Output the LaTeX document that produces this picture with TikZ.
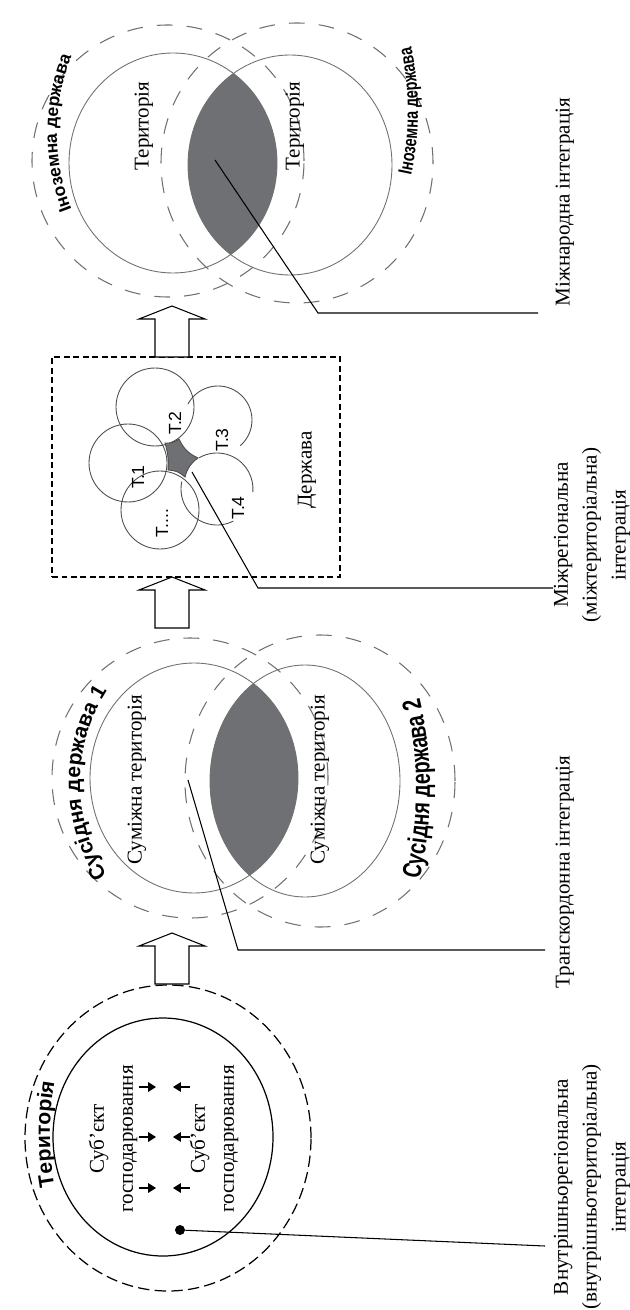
\documentclass[tikz,border=0pt]{standalone}
\usepackage{fontspec}
\setmainfont{Liberation Serif}
\newfontfamily\labsans{Liberation Sans}
\newfontfamily\condsans[FakeStretch=0.75]{Liberation Sans}
\usetikzlibrary{arrows.meta,decorations.text}
\definecolor{rimgrey}{RGB}{112,112,112}
\definecolor{lensgrey}{RGB}{110,112,115}
\tikzset{
  rim/.style={draw=rimgrey, line width=0.5pt},
  farrim/.style={draw=rimgrey, line width=0.6pt, dash pattern=on 9pt off 8pt},
  petal/.style={draw=black!70, line width=0.5pt},
  lens/.style={fill=lensgrey},
  inlabel/.style={rotate=90, font=\fontsize{12}{16.5}\selectfont, align=center, inner sep=0pt},
  caption/.style={rotate=90, font=\fontsize{12}{16.5}\selectfont, align=center, inner sep=0pt},
  tlabel/.style={rotate=90, font=\labsans\fontsize{10}{12}\selectfont, inner sep=0pt},
  statebox/.style={draw, line width=0.7pt, dash pattern=on 3.4pt off 2pt,
    minimum width=5.76cm, minimum height=4.4cm, inner sep=0pt},
  bigarrow/.style={draw, fill=white, line width=0.6pt},
  leader/.style={line width=0.6pt},
  smallarrow/.style={-{Triangle[length=4.5pt,width=5.5pt]}, line width=0.6pt}
}

\begin{document}
\begin{tikzpicture}[x=0.02cm, y=0.02cm]
\useasboundingbox (0,0) rectangle (629,-1310);

% international integration
\draw[farrim] (168,-161) ellipse [x radius=136, y radius=136];
\draw[farrim] (297,-163) ellipse [x radius=136, y radius=140];
\begin{scope}
  \clip (173,-163) ellipse [x radius=104, y radius=110];
  \fill[lens] (290,-165) ellipse [x radius=102, y radius=110];
\end{scope}
\draw[rim] (173,-163) ellipse [x radius=104, y radius=110];
\draw[rim] (290,-165) ellipse [x radius=102, y radius=110];
\node[inlabel] (terL) at (144,-126) {Територія};
\node[inlabel] (terR) at (295,-126) {Територія};
\path[decorate, decoration={text along path, text align=center,
    text={|\labsans\bfseries\fontsize{10}{12}\selectfont|Іноземна держава}}]
  (267,-133) ++(210:210) arc [start angle=210, end angle=150, radius=210];
\path[decorate, decoration={text along path, text align=center,
    text={|\condsans\bfseries\fontsize{11}{13}\selectfont|Іноземна держава}}]
  (110,-111) ++(-16:308) arc [start angle=-16, end angle=16, radius=308];

% state with regions
\node[statebox] (state) at (196,-467) {};
\node[inlabel] (statelbl) at (307,-470) {Держава};
\draw[petal] (155,-407) circle [radius=39];
\draw[petal] (128,-463) circle [radius=39];
\draw[petal] (160,-510) circle [radius=39];
\draw[petal] (218,-420) ++(152:34) arc [start angle=152, end angle=-49, radius=34];
\draw[petal] (217,-489) ++(120:36) arc [start angle=120, end angle=-5, radius=36];
\draw[petal] (217,-489) ++(168:36) arc [start angle=168, end angle=297, radius=36];
\draw[fill=lensgrey, draw=black!70, line width=0.5pt] (165,-443) to[bend right=20] (179,-439)
  to[bend right=20] (198,-458) to[bend right=20] (185,-477)
  to[bend right=20] (168,-470) to[bend right=10] cycle;
\node[tlabel] (t1) at (138,-477) {Т.1};
\node[tlabel] (t2) at (175,-423) {Т.2};
\node[tlabel] (t3) at (222,-440) {Т.3};
\node[tlabel] (t4) at (238,-508) {Т.4};
\node[tlabel] (tn) at (162,-523) {Т....};

% cross-border integration
\draw[farrim] (190,-778) ellipse [x radius=138, y radius=140];
\draw[farrim] (320,-781) ellipse [x radius=135, y radius=146];
\begin{scope}
  \clip (194,-778) ellipse [x radius=104, y radius=115];
  \fill[lens] (305,-781) ellipse [x radius=95, y radius=116];
\end{scope}
\draw[rim] (194,-778) ellipse [x radius=104, y radius=115];
\draw[rim] (305,-781) ellipse [x radius=95, y radius=116];
\node[inlabel] (adjL) at (137,-780) {Суміжна територія};
\node[inlabel] (adjR) at (320,-780) {Суміжна територія};
\path[decorate, decoration={text along path, text align=center,
    text={|\labsans\bfseries\fontsize{12}{14}\selectfont|Сусідня держава 1}}]
  (252,-783) ++(216:172) arc [start angle=216, end angle=144, radius=172];
\path[decorate, decoration={text along path, text align=center,
    text={|\condsans\bfseries\fontsize{15}{17}\selectfont|Сусідня держава 2}}]
  (30,-789) ++(-15:400) arc [start angle=-15, end angle=15, radius=400];

% territory
\draw[line width=0.7pt, dash pattern=on 6.5pt off 3pt] (168,-1138) ellipse [x radius=143, y radius=153];
\draw[line width=0.7pt] (163,-1137) ellipse [x radius=110, y radius=119];
\path[decorate, decoration={text along path, text align=center,
    text={|\labsans\bfseries\fontsize{12}{14}\selectfont|Територія}}]
  (350,-1134) ++(192:300) arc [start angle=192, end angle=168, radius=300];
\node[inlabel] (subjL) at (113,-1139) {Суб’єкт\\господарювання};
\node[inlabel] (subjR) at (214,-1139) {Суб’єкт\\господарювання};
\foreach \k/\yy in {1/1087,2/1137,3/1188}{
  \coordinate (ra\k) at (139,-\yy);
  \coordinate (rb\k) at (156,-\yy);
  \coordinate (la\k) at (190,-\yy);
  \coordinate (lb\k) at (173,-\yy);
  \draw[smallarrow] (ra\k) -- (rb\k);
  \draw[smallarrow] (la\k) -- (lb\k);
}
\node[circle, fill, inner sep=0pt, minimum size=0.2cm] (dot) at (180,-1230) {};

% hollow arrows between stages
\coordinate (up1) at (172,-984);
\coordinate (up2) at (172,-628);
\coordinate (up3) at (172,-357);
\foreach \a in {up1,up2,up3}
  \draw[bigarrow] (\a) ++(-17,0) -- ++(0,38) -- ++(-16,0) -- ++(33,13)
    -- ++(33,-13) -- ++(-16,0) -- ++(0,-38) -- cycle;

% captions and leaders
\node[caption] (capintl) at (565,-202) {Міжнародна інтеграція};
\node[caption] (capinter) at (592,-535) {Міжрегіональна\\(міжтериторіальна)\\інтеграція};
\node[caption] (captrans) at (565,-872) {Транскордонна інтеграція};
\node[caption] (capintra) at (592,-1187) {Внутрішньорегіональна\\(внутрішньотериторіальна)\\інтеграція};
\coordinate (lenspt) at (215,-160);
\coordinate (intlbend) at (318,-313);
\coordinate (intlend) at (538,-313);
\coordinate (starpt) at (192,-472);
\coordinate (interbend) at (258,-588);
\coordinate (interend) at (553,-588);
\coordinate (adjpt) at (188,-780);
\coordinate (transbend) at (238,-950);
\coordinate (transend) at (545,-950);
\coordinate (intraend) at (545,-1246);
\draw[leader] (lenspt) -- (intlbend) -- (intlend);
\draw[leader] (starpt) -- (interbend) -- (interend);
\draw[leader] (adjpt) -- (transbend) -- (transend);
\draw[leader] (dot) -- (intraend);
\end{tikzpicture}
\end{document}
